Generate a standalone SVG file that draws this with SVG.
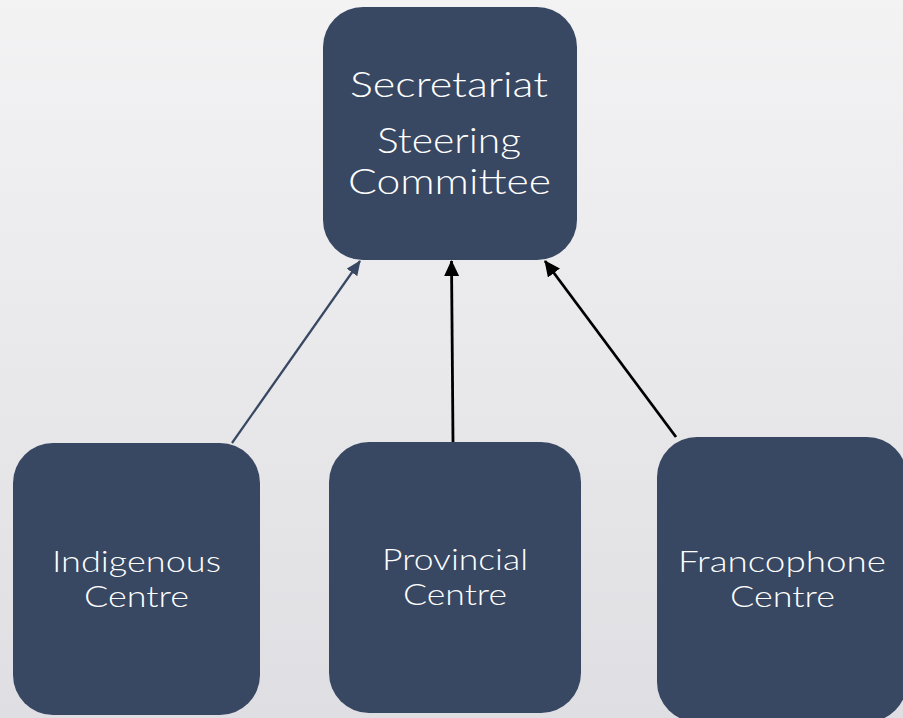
<svg xmlns="http://www.w3.org/2000/svg" width="903" height="718" viewBox="0 0 903 718">
  <defs>
    <linearGradient id="bg" x1="0" y1="0" x2="0" y2="1">
      <stop offset="0" stop-color="#f3f3f4"/>
      <stop offset="1" stop-color="#dfdfe3"/>
    </linearGradient>
    <marker id="ahBlue" markerWidth="15" markerHeight="13" refX="14" refY="6.5" orient="auto" markerUnits="userSpaceOnUse">
      <path d="M0,0 L15,6.5 L0,13 Z" fill="#384762"/>
    </marker>
    <marker id="ahBlack" markerWidth="16" markerHeight="15" refX="15" refY="7.5" orient="auto" markerUnits="userSpaceOnUse">
      <path d="M0,0 L16,7.5 L0,15 Z" fill="#000"/>
    </marker>
  </defs>
  <style>
    .box { fill: #384762; }
    .lbl { fill: #ffffff; font-family: Lato, "Liberation Sans", sans-serif; font-weight: 300; text-anchor: middle; }
    .top { font-size: 35px; }
    .bot { font-size: 29px; }
  </style>
  <rect x="0" y="0" width="903" height="718" fill="url(#bg)"/>
  <g id="connectors">
    <line x1="232" y1="443" x2="360" y2="261" stroke="#384762" stroke-width="2.2" marker-end="url(#ahBlue)"/>
    <line x1="453" y1="442" x2="451.5" y2="261" stroke="#000" stroke-width="2.8" marker-end="url(#ahBlack)"/>
    <line x1="676" y1="437" x2="545" y2="261" stroke="#000" stroke-width="2.8" marker-end="url(#ahBlack)"/>
  </g>
  <g id="secretariat">
    <rect class="box" x="323" y="7" width="254" height="253" rx="40"/>
    <text class="lbl top" x="449" y="97" textLength="198" lengthAdjust="spacingAndGlyphs">Secretariat</text>
    <text class="lbl top" x="449" y="153" textLength="144" lengthAdjust="spacingAndGlyphs">Steering</text>
    <text class="lbl top" x="449.5" y="194" textLength="203" lengthAdjust="spacingAndGlyphs">Committee</text>
  </g>
  <g id="indigenous">
    <rect class="box" x="13" y="443" width="247" height="272" rx="40"/>
    <text class="lbl bot" x="136.5" y="572" textLength="169" lengthAdjust="spacingAndGlyphs">Indigenous</text>
    <text class="lbl bot" x="136.5" y="607" textLength="105" lengthAdjust="spacingAndGlyphs">Centre</text>
  </g>
  <g id="provincial">
    <rect class="box" x="329" y="442" width="252" height="271" rx="40"/>
    <text class="lbl bot" x="455" y="570" textLength="146" lengthAdjust="spacingAndGlyphs">Provincial</text>
    <text class="lbl bot" x="455" y="605" textLength="104" lengthAdjust="spacingAndGlyphs">Centre</text>
  </g>
  <g id="francophone">
    <rect class="box" x="657" y="437" width="250" height="285" rx="40"/>
    <text class="lbl bot" x="782" y="572" textLength="208" lengthAdjust="spacingAndGlyphs">Francophone</text>
    <text class="lbl bot" x="782.5" y="607" textLength="105" lengthAdjust="spacingAndGlyphs">Centre</text>
  </g>
</svg>
